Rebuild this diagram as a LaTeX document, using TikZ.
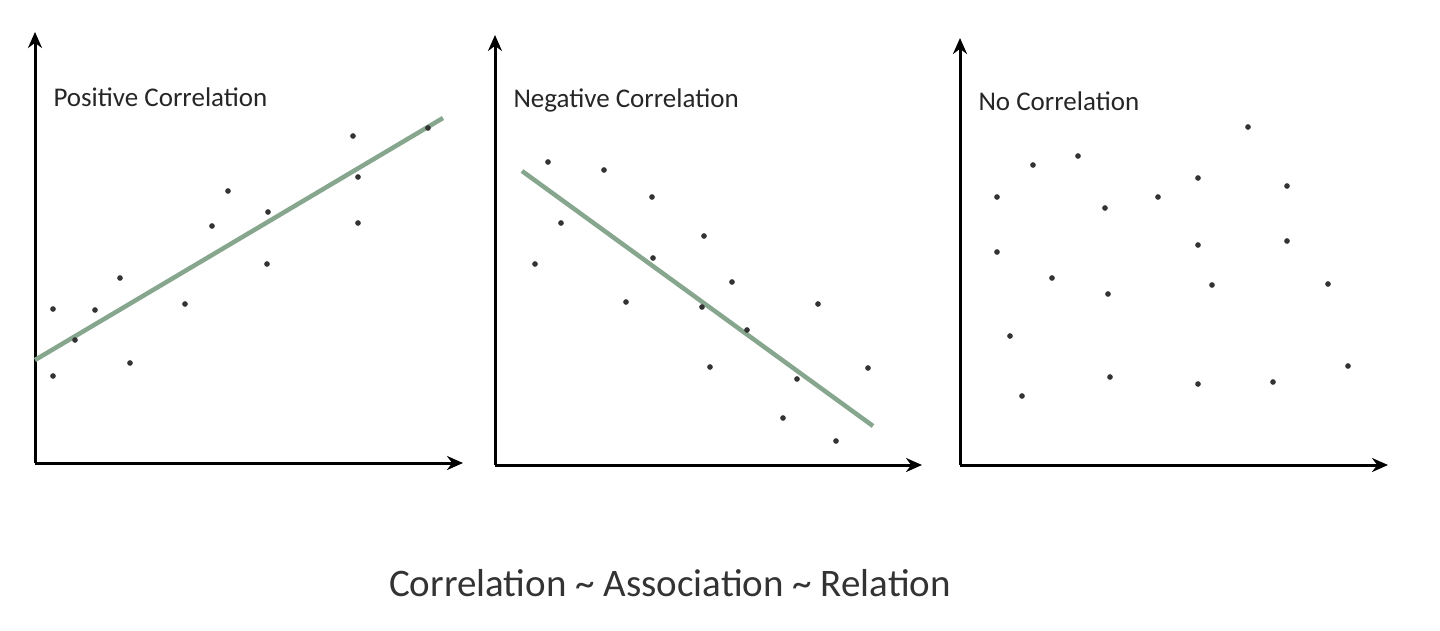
\documentclass[tikz,border=0pt]{standalone}
\usepackage{fontspec}
\setmainfont{Carlito}
\begin{document}
\begin{tikzpicture}[x=1pt,y=-1pt,
 ax/.style={line width=3pt,-{Stealth[length=16pt,width=14pt]}},
 fit/.style={line width=4.5pt,color=fitc},
 dot/.style={fill=black!80,circle,inner sep=2pt},
 ttl/.style={anchor=west,font=\fontsize{27}{32}\selectfont,text=black!85}]
\usetikzlibrary{arrows.meta}
\definecolor{fitc}{RGB}{134,166,142}
\useasboundingbox (0,0) rectangle (1440,630);
% panel 1
\coordinate (o1) at (35,463); \coordinate (t1) at (35,32); \coordinate (r1) at (463,463);
\draw[ax] (o1) -- (t1); \draw[ax] (o1) -- (r1);
\coordinate (a1) at (35,360); \coordinate (b1) at (443,118);
\draw[fit] (a1) -- (b1);
\foreach \p in {(53,309),(53,376),(75,340),(95,310),(120,278),(130,363),(185,304),(212,226),(228,191),(268,212),(267,264),(353,136),(358,177),(358,223),(428,128)}
 \node[dot] at \p {};
\node[ttl] (l1) at (50,97) {Positive Correlation};
% panel 2
\coordinate (o2) at (495,465); \coordinate (t2) at (495,35); \coordinate (r2) at (922,465);
\draw[ax] (o2) -- (t2); \draw[ax] (o2) -- (r2);
\coordinate (a2) at (522,171); \coordinate (b2) at (873,426);
\draw[fit] (a2) -- (b2);
\foreach \p in {(535,264),(548,162),(561,223),(604,170),(626,302),(652,197),(653,258),(704,236),(702,307),(710,367),(732,282),(747,330),(783,418),(797,379),(818,304),(836,441),(868,368)}
 \node[dot] at \p {};
\node[ttl] (l2) at (510,100) {Negative Correlation};
% panel 3
\coordinate (o3) at (960,465); \coordinate (t3) at (960,38); \coordinate (r3) at (1388,465);
\draw[ax] (o3) -- (t3); \draw[ax] (o3) -- (r3);
\foreach \p in {(997,197),(997,252),(1010,336),(1022,396),(1033,165),(1052,278),(1078,156),(1105,208),(1108,294),(1110,377),(1158,197),(1198,178),(1198,245),(1198,384),(1212,285),(1248,127),(1273,382),(1287,186),(1287,241),(1328,284),(1348,366)}
 \node[dot] at \p {};
\node[ttl] (l3) at (975,101) {No Correlation};
\node[font=\fontsize{39}{46}\selectfont,text=black!80] (cap) at (670,583) {Correlation \textasciitilde{} Association \textasciitilde{} Relation};
\end{tikzpicture}
\end{document}
